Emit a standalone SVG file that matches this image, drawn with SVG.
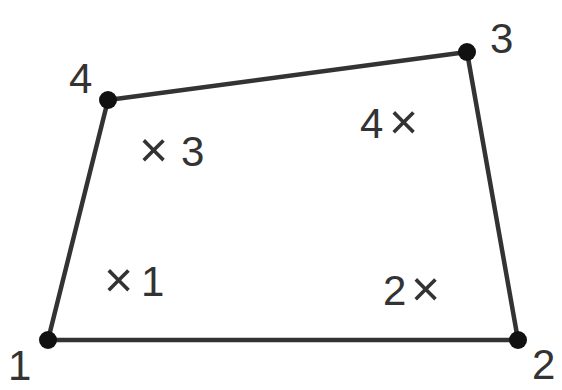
<svg xmlns="http://www.w3.org/2000/svg" width="562" height="390" viewBox="0 0 562 390">
<style>
.edge{stroke:#333;stroke-width:4.5;fill:none;stroke-linejoin:round}
.dot{fill:#111}
text{font-family:"Liberation Sans",Arial,sans-serif;font-size:42px;fill:#333}
.x{font-size:50px}
</style>
<rect width="562" height="390" fill="#fff"/>
<g id="connectors">
<path class="edge" d="M48,340 L518,340 L467,52 L108,100 Z"/>
</g>
<g id="node1"><circle class="dot" cx="48" cy="340" r="9"/><text x="8" y="380">1</text></g>
<g id="node2"><circle class="dot" cx="518" cy="340" r="9"/><text x="532" y="379">2</text></g>
<g id="node3"><circle class="dot" cx="467" cy="52" r="9"/><text x="490" y="53">3</text></g>
<g id="node4"><circle class="dot" cx="108" cy="100" r="9"/><text x="69" y="93">4</text></g>
<g id="gp3"><text x="139" y="167"><tspan class="x">×</tspan><tspan x="181" y="166">3</tspan></text></g>
<g id="gp4"><text x="360" y="138">4<tspan class="x" x="389" y="139">×</tspan></text></g>
<g id="gp1"><text x="104" y="297"><tspan class="x">×</tspan><tspan x="141" y="296">1</tspan></text></g>
<g id="gp2"><text x="383" y="305">2<tspan class="x" x="411" y="306">×</tspan></text></g>
</svg>
